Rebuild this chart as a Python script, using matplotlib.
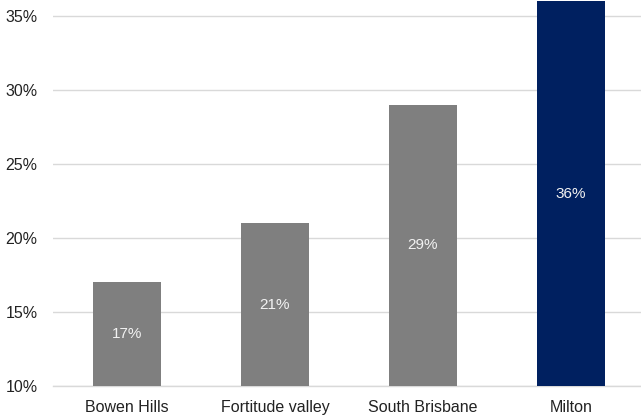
import matplotlib.pyplot as plt
import numpy as np

plt.rcParams['font.family'] = ['Liberation Sans', 'DejaVu Sans']

# Suburbs and their share values (%)
suburbs = ["Bowen Hills", "Fortitude valley", "South Brisbane", "Milton"]
shares = [17, 21, 29, 36]
colors = ["#7f7f7f", "#7f7f7f", "#7f7f7f", "#002060"]

y_min, y_max = 10, 36
yticks = [10, 15, 20, 25, 30, 35]

fig = plt.figure(figsize=(6.41, 4.18), dpi=100)
ax = fig.add_axes([53/641, 32/418, 592/641, 384.6/418])

x = np.arange(len(suburbs))
ax.bar(x, [s - y_min for s in shares], 0.46, bottom=y_min, color=colors, zorder=3)

# Value labels centred in each bar
for xi, s in zip(x, shares):
    ax.text(xi, (s + y_min) / 2, f"{s}%", ha='center', va='center',
            color='#f2f2f2', fontsize=11, zorder=4)

ax.set_xlim(-0.5, len(suburbs) - 0.5)
ax.set_ylim(y_min, y_max)
ax.set_yticks(yticks)
ax.set_yticklabels([f"{t}%" for t in yticks])
ax.set_xticks(x)
ax.set_xticklabels(suburbs)

ax.grid(axis='y', color='#d9d9d9', linewidth=1, zorder=0)
for side in ['top', 'right', 'left']:
    ax.spines[side].set_visible(False)
ax.spines['bottom'].set_color('#d9d9d9')
ax.spines['bottom'].set_linewidth(1)
ax.tick_params(axis='both', length=0, labelsize=11.5, labelcolor='#222222')
ax.tick_params(axis='y', pad=11)
ax.tick_params(axis='x', pad=10)

fig.savefig('out.png', dpi=100)
